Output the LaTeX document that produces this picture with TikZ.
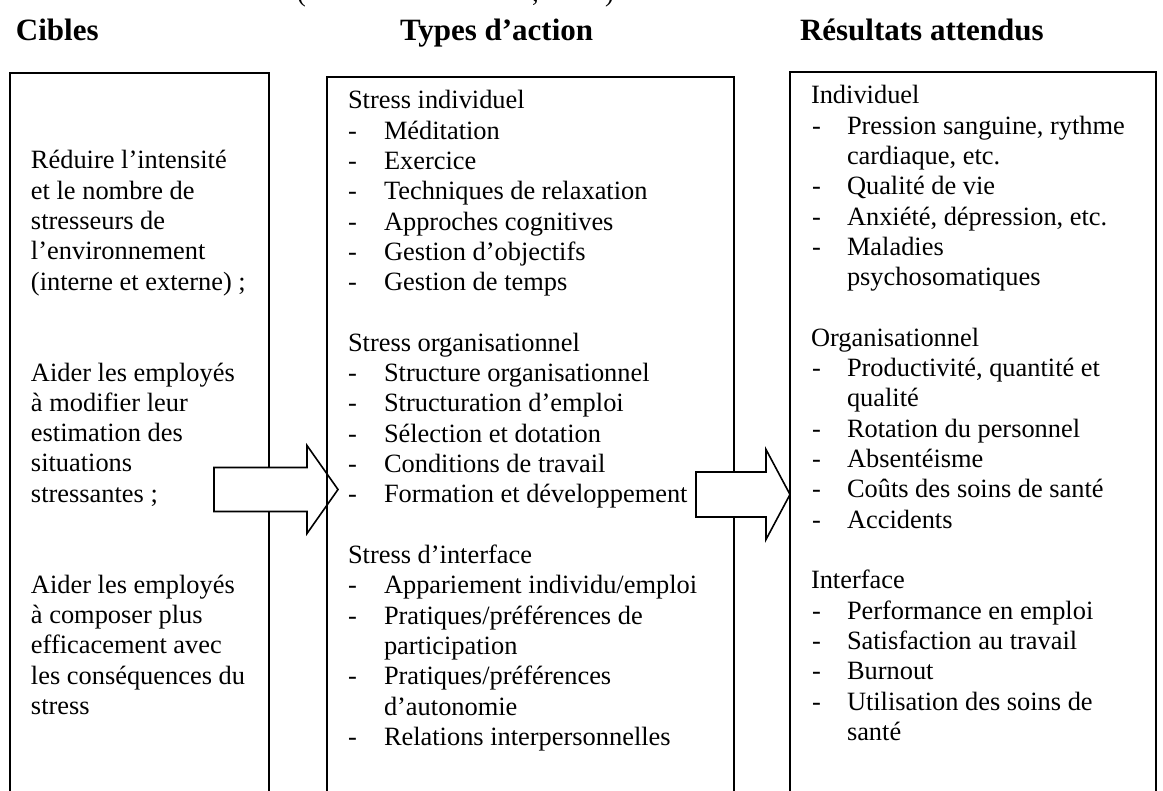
\documentclass[tikz,border=0pt]{standalone}
\usepackage{fontspec}
\setmainfont{Liberation Serif}
\begin{document}
\begin{tikzpicture}[x=0.5pt,y=-0.5pt,
  body/.style={anchor=base west, inner sep=0pt, outer sep=0pt,
    font=\fontsize{13.2}{15}\selectfont},
  head/.style={anchor=base west, inner sep=0pt, outer sep=0pt,
    font=\fontsize{15.5}{18}\selectfont\bfseries},
  frame/.style={line width=0.8pt},
  blockarrow/.style={line width=0.8pt, fill=white, line join=miter}]
\useasboundingbox (0,0) rectangle (1163,791);

% source line above the headings, cut by the page top
\node[body] (src-l) at (297,2) {(};
\node[body] (src-c) at (532,2) {,};
\node[body] (src-r) at (605,2) {)};

% column headings
\node[head] (hcibles) at (16,41) {Cibles};
\node[head] (htypes) at (400,41) {Types d’action};
\node[head] (hres) at (800,41) {Résultats attendus};

% frames (open at the bottom, they run past the page edge)
\draw[frame] (10,820) |- (269,73) -- (269,820);

% arrow from the targets to the actions
\draw[blockarrow] (214,467.5) -- (307,467.5) -- (307,445.5) -- (338,489.5)
  -- (307,533.5) -- (307,511.5) -- (214,511.5) -- cycle;

\draw[frame] (327,820) |- (734,77) -- (734,820);

% arrow from the actions to the outcomes
\draw[blockarrow] (696,472) -- (766,472) -- (766,449.5) -- (790,494.5)
  -- (766,539.5) -- (766,517) -- (696,517) -- cycle;

\draw[frame] (790,820) |- (1156,72) -- (1156,820);

% targets
\foreach \i/\t in {0/{Réduire l’intensité},1/{et le nombre de},2/{stresseurs de},
  3/{l’environnement},4/{(interne et externe) ;},
  7/{Aider les employés},8/{à modifier leur},9/{estimation des},10/{situations},
  11/{stressantes ;},
  14/{Aider les employés},15/{à composer plus},16/{efficacement avec},
  17/{les conséquences du},18/{stress}}
  \node[body] (c1-\i) at (31,{169+\i*30.3}) {\t};

% types of action
\foreach \i/\t in {0/{Stress individuel},8/{Stress organisationnel},15/{Stress d’interface}}
  \node[body] (c2-\i) at (348,{109+\i*30.3}) {\t};
\foreach \i/\t in {1/{Méditation},2/{Exercice},3/{Techniques de relaxation},
  4/{Approches cognitives},5/{Gestion d’objectifs},6/{Gestion de temps},
  9/{Structure organisationnel},10/{Structuration d’emploi},
  11/{Sélection et dotation},12/{Conditions de travail},
  13/{Formation et développement},16/{Appariement individu/emploi},
  17/{Pratiques/préférences de},19/{Pratiques/préférences},
  21/{Relations interpersonnelles}}
{
  \node[body] (d2-\i) at (348,{109+\i*30.3}) {-};
  \node[body] (c2-\i) at (384,{109+\i*30.3}) {\t};
}
\foreach \i/\t in {18/{participation},20/{d’autonomie}}
  \node[body] (c2-\i) at (384,{109+\i*30.3}) {\t};

% expected outcomes
\foreach \i/\t in {0/{Individuel},8/{Organisationnel},16/{Interface}}
  \node[body] (c3-\i) at (811,{104+\i*30.3}) {\t};
\foreach \i/\t in {1/{Pression sanguine, rythme},3/{Qualité de vie},
  4/{Anxiété, dépression, etc.},5/{Maladies},
  9/{Productivité, quantité et},11/{Rotation du personnel},12/{Absentéisme},
  13/{Coûts des soins de santé},14/{Accidents},
  17/{Performance en emploi},18/{Satisfaction au travail},19/{Burnout},
  20/{Utilisation des soins de}}
{
  \node[body] (d3-\i) at (812,{104+\i*30.3}) {-};
  \node[body] (c3-\i) at (847,{104+\i*30.3}) {\t};
}
\foreach \i/\t in {2/{cardiaque, etc.},6/{psychosomatiques},10/{qualité},21/{santé}}
  \node[body] (c3-\i) at (847,{104+\i*30.3}) {\t};
\end{tikzpicture}
\end{document}
